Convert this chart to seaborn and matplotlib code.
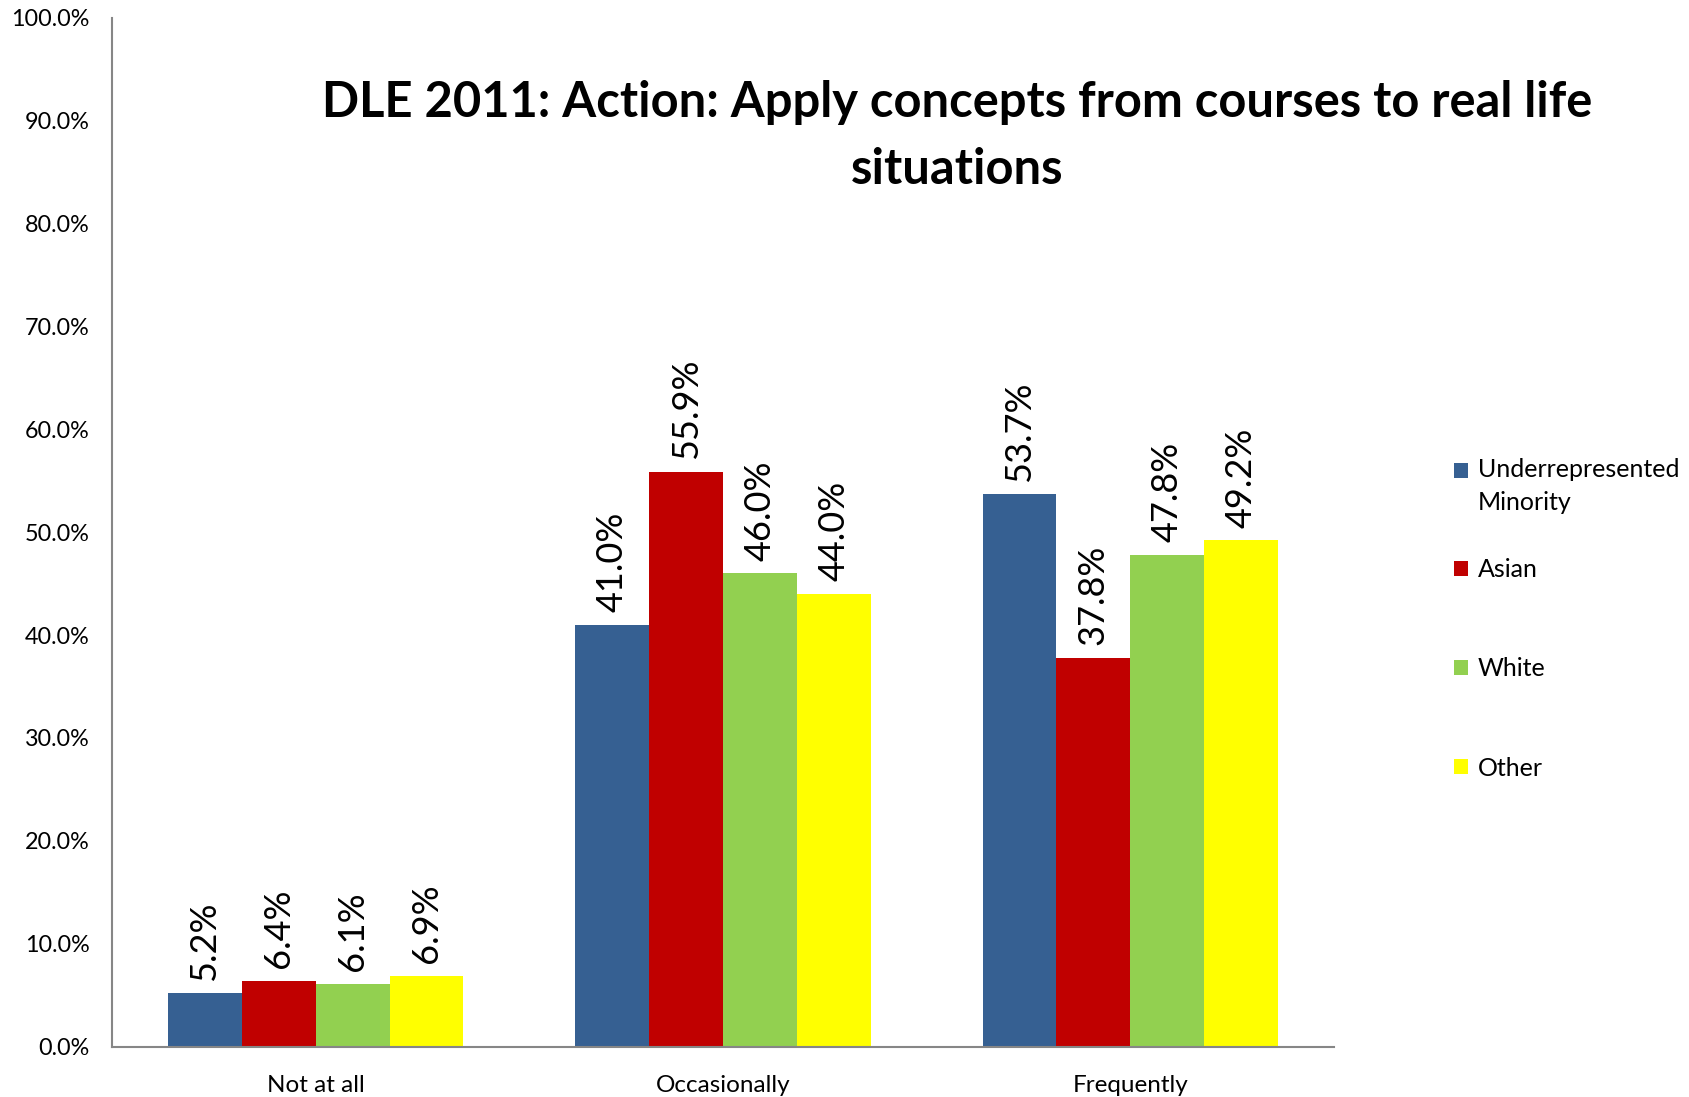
import matplotlib
matplotlib.use("Agg")
import matplotlib.pyplot as plt
import matplotlib.ticker as mticker
from matplotlib.legend_handler import HandlerPatch
import seaborn as sns
import pandas as pd

# Survey responses by group (percent of respondents)
responses = ["Not at all", "Occasionally", "Frequently"]
groups = ["Underrepresented\nMinority", "Asian", "White", "Other"]
urm = [5.2, 41.0, 53.7]
asian = [6.4, 55.9, 37.8]
white = [6.1, 46.0, 47.8]
other = [6.9, 44.0, 49.2]
colors = ["#366092", "#C00000", "#92D050", "#FFFF00"]
yticks = [0, 10, 20, 30, 40, 50, 60, 70, 80, 90, 100]

rows = []
for g, vals in zip(groups, [urm, asian, white, other]):
    for r, v in zip(responses, vals):
        rows.append({"Response": r, "Group": g, "Percent": v})
df = pd.DataFrame(rows)

sns.set_theme(style="white")
plt.rcParams["font.family"] = ["Lato", "DejaVu Sans"]
plt.rcParams["text.color"] = "black"
plt.rcParams["xtick.color"] = "black"
plt.rcParams["ytick.color"] = "black"


class TopAlignedPatch(HandlerPatch):
    """Square legend key raised to sit beside the first line of a two-line label."""

    def __init__(self, shift, **kw):
        super().__init__(**kw)
        self.shift = shift

    def create_artists(self, legend, orig_handle, xdescent, ydescent,
                       width, height, fontsize, trans):
        return super().create_artists(legend, orig_handle, xdescent,
                                      ydescent - self.shift, width, height,
                                      fontsize, trans)


fig = plt.figure(figsize=(16.9, 10.97), dpi=100)
ax = fig.add_axes([0.0663, 0.046, 0.7230, 0.9376])

sns.barplot(data=df, x="Response", y="Percent", hue="Group",
            order=responses, hue_order=groups, palette=colors,
            width=0.725, gap=0, linewidth=0, saturation=1,
            errorbar=None, ax=ax)

for cont in ax.containers:
    vals = [b.get_height() for b in cont]
    ax.bar_label(cont, labels=[f"{v:.1f}%" for v in vals], rotation=90,
                 padding=9, fontsize=26, color="black")

axis_gray = "#868686"
ax.set_xlim(-0.5, 2.5)
ax.set_ylim(0, 100)
ax.set_yticks(yticks)
ax.yaxis.set_major_formatter(mticker.FuncFormatter(lambda v, p: f"{v:.1f}%"))
ax.set_xticks([-0.5, 0.5, 1.5, 2.5], minor=True)
ax.tick_params(axis="x", which="major", length=0, pad=20.5, labelsize=17.5,
               labelcolor="black")
ax.tick_params(axis="x", which="minor", length=8, width=1.5, color=axis_gray,
               direction="out")
ax.tick_params(axis="y", which="major", length=8, width=1.5, color=axis_gray,
               direction="out", labelsize=16.8, labelcolor="black", pad=8)
for side in ["top", "right"]:
    ax.spines[side].set_visible(False)
for side in ["left", "bottom"]:
    ax.spines[side].set_color(axis_gray)
    ax.spines[side].set_linewidth(1.5)
ax.set_xlabel("")
ax.set_ylabel("")
ax.grid(False)

# Legend: the two-line entry on its own, the remaining three evenly spaced below
handles, labels = ax.get_legend_handles_labels()
ax.get_legend().remove()
leg_kw = dict(frameon=False, fontsize=18, handlelength=0.55, handleheight=0.55,
              handletextpad=0.4, borderpad=0, borderaxespad=0,
              bbox_transform=fig.transFigure)
leg_top = ax.legend(handles[:1], labels[:1], loc="center left",
                    bbox_to_anchor=(1454 / 1690, 1 - 486 / 1097),
                    handler_map={handles[0]: TopAlignedPatch(11.6)}, **leg_kw)
for t in leg_top.get_texts():
    t.set_linespacing(1.5)
ax.add_artist(leg_top)
ax.legend(handles[1:], labels[1:], loc="center left",
          bbox_to_anchor=(1454 / 1690, 1 - 669 / 1097),
          labelspacing=3.05, **leg_kw)

fig.text(957 / 1690, 1 - 136 / 1097,
         "DLE 2011: Action: Apply concepts from courses to real life\nsituations",
         ha="center", va="center", fontsize=35.2, fontweight="bold",
         linespacing=1.57, color="black")

fig.savefig("out.png", dpi=100)
